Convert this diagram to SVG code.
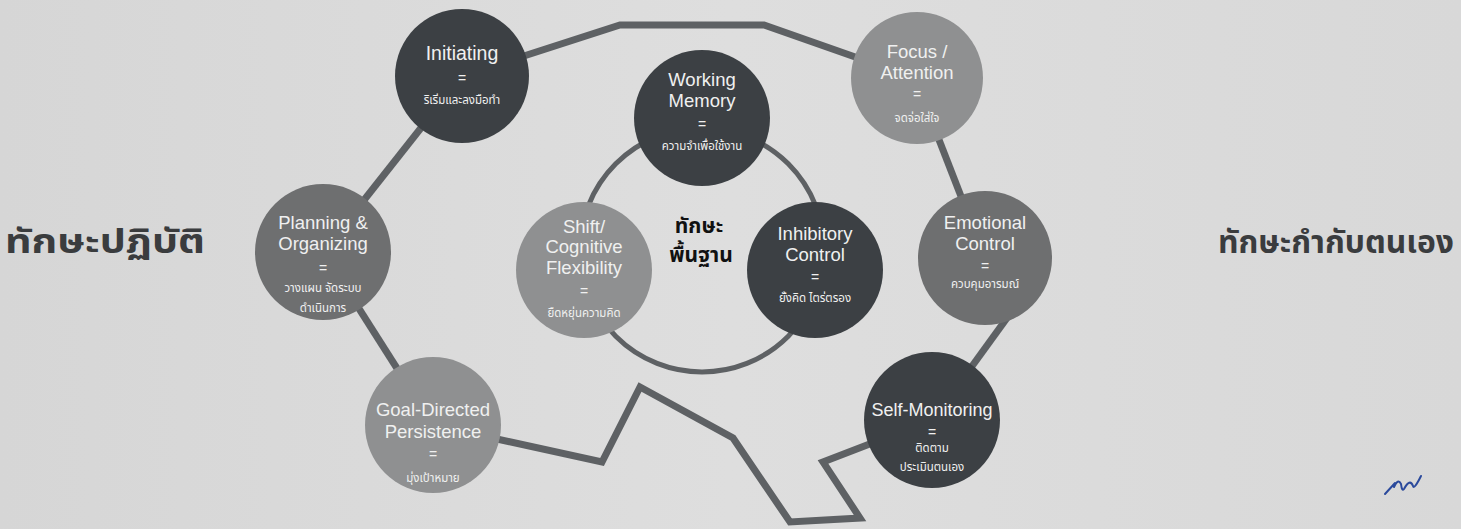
<svg xmlns="http://www.w3.org/2000/svg" width="1461" height="529" viewBox="0 0 1461 529">
  <defs>
    <linearGradient id="bg" x1="0" y1="0" x2="1" y2="0">
      <stop offset="0" stop-color="#d6d6d6"/>
      <stop offset="0.5" stop-color="#dedede"/>
      <stop offset="1" stop-color="#d8d8d8"/>
    </linearGradient>
  </defs>
  <style>
    .dark { fill: #3c4044; }
    .mid { fill: #6e6f70; }
    .light { fill: #8f9091; }
    .conn { fill: none; stroke: #5e6164; stroke-width: 7; stroke-linejoin: miter; }
    .ring { fill: none; stroke: #5e6164; stroke-width: 5; }
    .en { font-family: "Liberation Sans", Arial, sans-serif; font-size: 18.5px; fill: #f0f0f0; text-anchor: middle; }
    .eq { font-family: "Liberation Sans", Arial, sans-serif; font-size: 14px; fill: #f0f0f0; text-anchor: middle; }
    .th { font-family: "Noto Sans Thai", "Noto Sans", "DejaVu Sans", sans-serif; font-size: 11.5px; fill: #f0f0f0; text-anchor: middle; }
    .head { font-family: "Noto Sans Thai", "Noto Sans", "DejaVu Sans", sans-serif; font-size: 34px; font-weight: bold; fill: #3a3c3e; }
    .core { font-family: "Noto Sans Thai", "Noto Sans", "DejaVu Sans", sans-serif; font-size: 21px; font-weight: bold; fill: #111111; text-anchor: middle; }
  </style>
  <rect x="0" y="0" width="1461" height="529" fill="url(#bg)"/>

  <g id="connectors">
    <circle class="ring" cx="702" cy="250" r="122"/>
    <polyline class="conn" points="462,76 620,25 764,25 915,78"/>
    <line class="conn" x1="462" y1="76" x2="323" y2="252"/>
    <line class="conn" x1="323" y1="252" x2="433" y2="425"/>
    <line class="conn" x1="915" y1="78" x2="985" y2="258"/>
    <line class="conn" x1="1020" y1="300" x2="962" y2="380"/>
    <polyline class="conn" points="433,425 602,462 640,387 733,438 790,522 860,518 823,462 932,420"/>
  </g>

  <g id="heading-left">
    <text class="head" x="5" y="253" textLength="200" lengthAdjust="spacingAndGlyphs">ทักษะปฏิบัติ</text>
  </g>
  <g id="heading-right">
    <text class="head" x="1218" y="253" style="font-size:32px" textLength="236" lengthAdjust="spacingAndGlyphs">ทักษะกำกับตนเอง</text>
  </g>

  <g id="node-initiating">
    <circle class="dark" cx="462" cy="76" r="67"/>
    <text class="en" x="462" y="60" style="font-size:19.5px">Initiating</text>
    <text class="eq" x="462" y="83">=</text>
    <text class="th" x="462" y="104">ริเริ่มและลงมือทำ</text>
  </g>

  <g id="node-working-memory">
    <circle class="dark" cx="702" cy="118" r="68"/>
    <text class="en" x="702" y="86">Working</text>
    <text class="en" x="702" y="107">Memory</text>
    <text class="eq" x="702" y="129">=</text>
    <text class="th" x="702" y="150">ความจำเพื่อใช้งาน</text>
  </g>

  <g id="node-focus">
    <circle class="light" cx="917" cy="78" r="66"/>
    <text class="en" x="917" y="58">Focus /</text>
    <text class="en" x="917" y="79">Attention</text>
    <text class="eq" x="917" y="99">=</text>
    <text class="th" x="917" y="122">จดจ่อใส่ใจ</text>
  </g>

  <g id="node-planning">
    <circle class="mid" cx="323" cy="252" r="68"/>
    <text class="en" x="323" y="229">Planning &amp;</text>
    <text class="en" x="323" y="250">Organizing</text>
    <text class="eq" x="323" y="273">=</text>
    <text class="th" x="323" y="292">วางแผน จัดระบบ</text>
    <text class="th" x="323" y="312">ดำเนินการ</text>
  </g>

  <g id="node-shift">
    <circle class="light" cx="584" cy="270" r="68"/>
    <text class="en" x="584" y="233">Shift/</text>
    <text class="en" x="584" y="253">Cognitive</text>
    <text class="en" x="584" y="274">Flexibility</text>
    <text class="eq" x="584" y="296">=</text>
    <text class="th" x="584" y="317">ยืดหยุ่นความคิด</text>
  </g>

  <g id="node-core">
    <text class="core" x="699" y="233">ทักษะ</text>
    <text class="core" x="701" y="262">พื้นฐาน</text>
  </g>

  <g id="node-inhibitory">
    <circle class="dark" cx="815" cy="270" r="68"/>
    <text class="en" x="815" y="240">Inhibitory</text>
    <text class="en" x="815" y="261">Control</text>
    <text class="eq" x="815" y="282">=</text>
    <text class="th" x="815" y="302">ยั้งคิด ไตร่ตรอง</text>
  </g>

  <g id="node-emotional">
    <circle class="mid" cx="985" cy="258" r="67"/>
    <text class="en" x="985" y="229">Emotional</text>
    <text class="en" x="985" y="250">Control</text>
    <text class="eq" x="985" y="271">=</text>
    <text class="th" x="985" y="288">ควบคุมอารมณ์</text>
  </g>

  <g id="node-goal">
    <circle class="light" cx="433" cy="425" r="68"/>
    <text class="en" x="433" y="416">Goal-Directed</text>
    <text class="en" x="433" y="438">Persistence</text>
    <text class="eq" x="433" y="459">=</text>
    <text class="th" x="433" y="482">มุ่งเป้าหมาย</text>
  </g>

  <g id="node-self-monitoring">
    <circle class="dark" cx="932" cy="420" r="68"/>
    <text class="en" x="932" y="416" style="font-size:18px">Self-Monitoring</text>
    <text class="eq" x="932" y="437">=</text>
    <text class="th" x="932" y="452">ติดตาม</text>
    <text class="th" x="932" y="471">ประเมินตนเอง</text>
  </g>

  <g id="signature">
    <path d="M1385,494 L1395,483 M1394,487 Q1398,478 1401,484 Q1402,492 1404,489 Q1410,478 1413,486 Q1414,490 1421,476" fill="none" stroke="#2b4a9c" stroke-width="2" stroke-linecap="round"/>
  </g>
</svg>
